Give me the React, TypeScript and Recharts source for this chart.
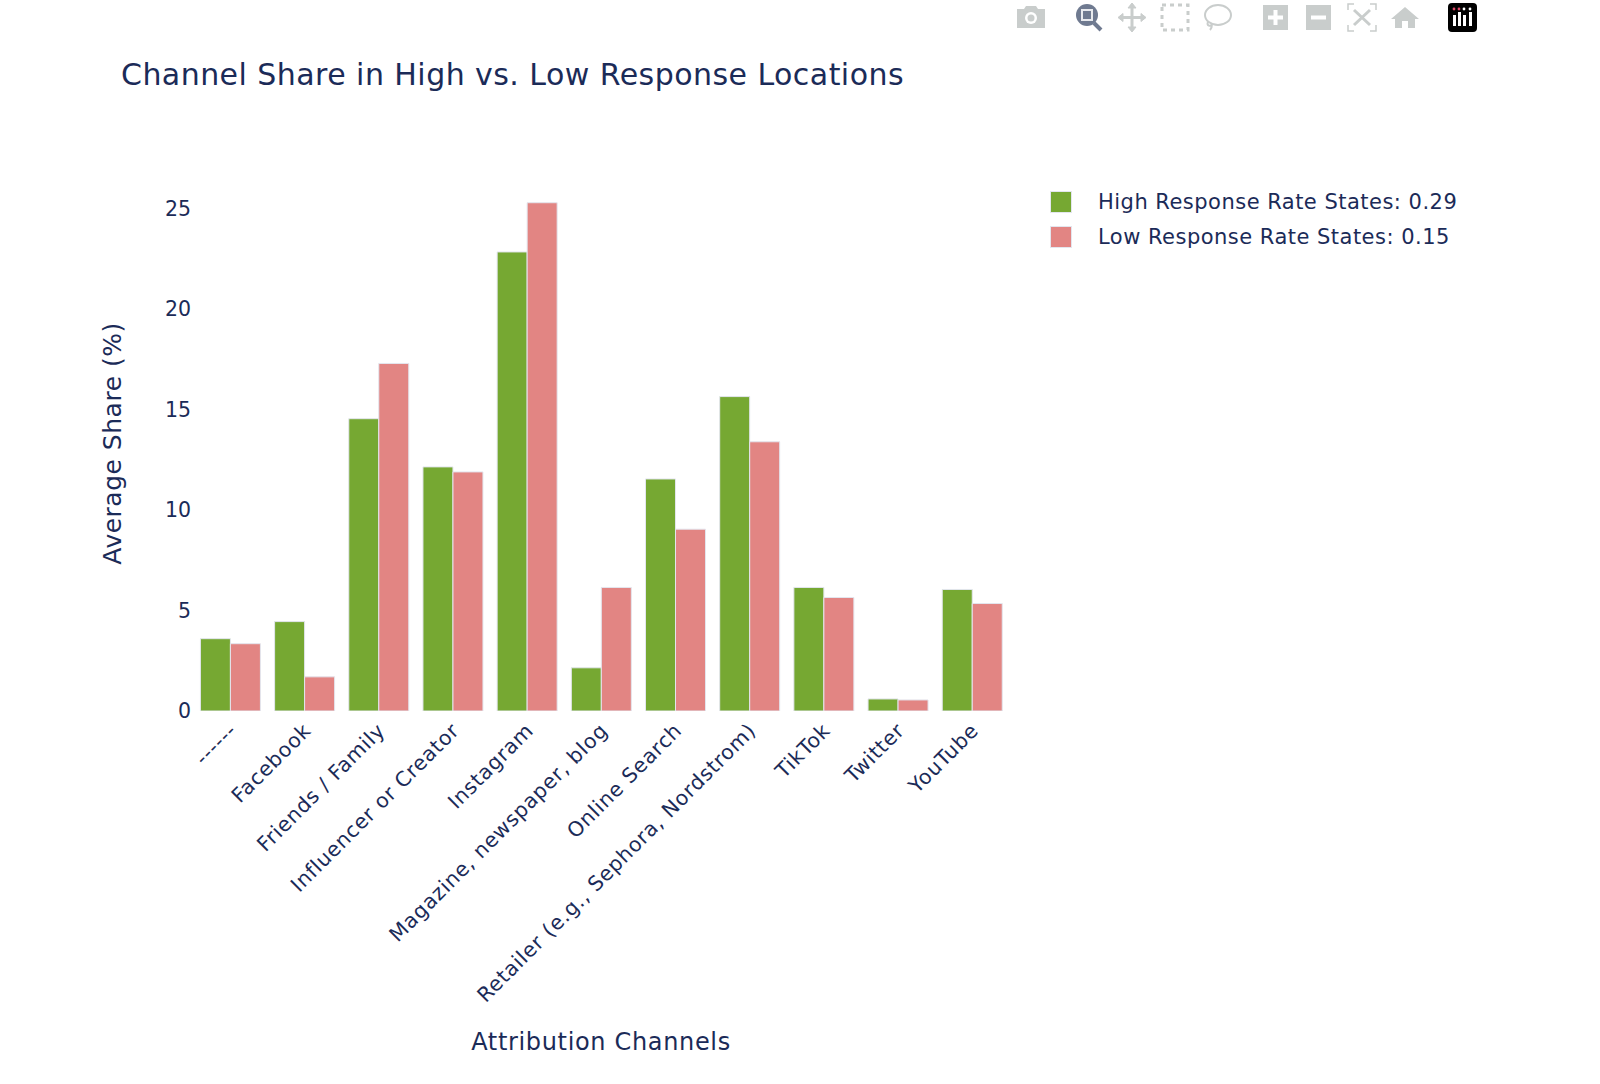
import React from 'react';
import { BarChart, Bar, XAxis, YAxis, Legend, Label } from 'recharts';

const categories = ['------', 'Facebook', 'Friends / Family', 'Influencer or Creator', 'Instagram', 'Magazine, newspaper, blog', 'Online Search', 'Retailer (e.g., Sephora, Nordstrom)', 'TikTok', 'Twitter', 'YouTube'];
const highValues = [3.6, 4.45, 14.55, 12.15, 22.85, 2.15, 11.55, 15.65, 6.15, 0.6, 6.05];
const lowValues = [3.35, 1.7, 17.3, 11.9, 25.3, 6.15, 9.05, 13.4, 5.65, 0.55, 5.35];
const yTicks = [0, 5, 10, 15, 20, 25];
const highName = 'High Response Rate States: 0.29';
const lowName = 'Low Response Rate States: 0.15';
const titleText = 'Channel Share in High vs. Low Response Locations';

const data = categories.map((c, i) => ({ category: c, high: highValues[i], low: lowValues[i] }));

const FONT = '"DejaVu Sans", Verdana, sans-serif';
const INK = '#1b2b58';
const GREEN = '#76a832';
const PINK = '#e28583';
const EDGE = '#e3e6ee';
const ICON = '#c9cdcc';

const XTick = (props: any) => {
  const { x, y, payload } = props;
  return (
    <text x={x - 3} y={y + 2} textAnchor="end" fontFamily={FONT} fontSize={20.5} letterSpacing={0.7} fill={INK} transform={`rotate(-45 ${x - 3} ${y + 2})`} dy="0.75em">
      {payload.value}
    </text>
  );
};

const LegendBox = () => (
  <div style={{ fontFamily: FONT, fontSize: 21, letterSpacing: 0.48, color: INK, lineHeight: '34.5px', whiteSpace: 'nowrap' }}>
    {[[GREEN, highName], [PINK, lowName]].map(([c, n]) => (
      <div key={n} style={{ display: 'flex', alignItems: 'center', height: 34.5 }}>
        <span style={{ display: 'inline-block', width: 22, height: 22, background: c, border: `1px solid ${EDGE}`, boxSizing: 'border-box', marginRight: 26 }} />
        <span>{n}</span>
      </div>
    ))}
  </div>
);

const Toolbar = () => (
  <svg width={1600} height={40} style={{ position: 'absolute', left: 0, top: 0 }}>
    <g fill={ICON}>
      <path d="M1017 9h7l2-3h10l2 3h7v19h-28z" />
      <circle cx={1031} cy={18} r={6} fill="#fff" />
      <circle cx={1031} cy={18} r={3.5} />
    </g>
    <g>
      <circle cx={1087} cy={15} r={11} fill="#6f7a90" />
      <rect x={1081} y={9} width={12} height={12} fill="#e8eaee" />
      <rect x={1083} y={11} width={8} height={8} fill="#6f7a90" />
      <path d="M1094 23l7 7" stroke="#6f7a90" strokeWidth={4} />
    </g>
    <g stroke={ICON} strokeWidth={3} fill={ICON}>
      <path d="M1132 5v25M1120 17.5h25" fill="none" />
      <path d="M1132 3l4 5h-8zM1132 32l4-5h-8zM1118 17.5l5-4v8zM1146 17.5l-5-4v8z" strokeWidth={1} />
    </g>
    <rect x={1162} y={5} width={26} height={25} fill="none" stroke={ICON} strokeWidth={3} strokeDasharray="4 4" />
    <g fill="none" stroke={ICON} strokeWidth={2}>
      <ellipse cx={1218} cy={15} rx={13} ry={10} />
      <path d="M1208 22c-2 4 3 5 4 2c0 3-1 5-2 6" />
    </g>
    <rect x={1263} y={5} width={25} height={25} fill={ICON} />
    <path d="M1275.5 10v15M1268 17.5h15" stroke="#fff" strokeWidth={4} />
    <rect x={1306} y={5} width={25} height={25} fill={ICON} />
    <path d="M1311 17.5h15" stroke="#fff" strokeWidth={4} />
    <g fill="none" stroke={ICON} strokeWidth={1.5}>
      <path d="M1348 10V4h6M1370 4h6v6M1376 25v6h-6M1354 31h-6v-6" />
      <path d="M1354 10l16 15M1370 10l-16 15" strokeWidth={3} />
    </g>
    <path d="M1405 7l14 12h-4v9h-7v-7h-6v7h-7v-9h-4z" fill={ICON} />
    <rect x={1448} y={3} width={29} height={29} rx={4} fill="#000" />
    <g fill="#fff">
      <rect x={1453} y={15} width={3} height={11} />
      <rect x={1458} y={12} width={3} height={14} />
      <rect x={1463} y={15} width={3} height={11} />
      <rect x={1469} y={12} width={3} height={14} />
    </g>
    <g fill="#e04a6a">
      <circle cx={1454} cy={9} r={1.4} />
      <circle cx={1459} cy={9} r={1.4} />
    </g>
    <g fill="#fff">
      <circle cx={1464} cy={9} r={1.4} />
      <circle cx={1470} cy={9} r={1.4} />
    </g>
  </svg>
);

export default function App() {
  return (
    <div style={{ position: 'absolute', left: 0, top: 0, width: 1600, height: 1084, background: '#fff', overflow: 'hidden' }}>
      <BarChart
        width={1600}
        height={1084}
        data={data}
        margin={{ top: 176, left: 0, right: 171, bottom: 0 }}
        barCategoryGap="10%"
        barGap={0}
      >
        <XAxis
          dataKey="category"
          interval={0}
          axisLine={false}
          tickLine={false}
          tick={<XTick />}
          height={373}
        >
          <Label value="Attribution Channels" position="insideBottom" offset={34} fontFamily={FONT} fontSize={24} letterSpacing={0.66} fill={INK} />
        </XAxis>
        <YAxis
          width={193}
          domain={[0, 26.63]}
          ticks={yTicks}
          axisLine={false}
          tickLine={false}
          allowDataOverflow
          tick={{ fontFamily: FONT, fontSize: 20.5, fill: INK, dx: 6, dy: 0 }}
        >
          <Label value="Average Share (%)" angle={-90} position="insideLeft" offset={112} fontFamily={FONT} fontSize={25} letterSpacing={0.5} fill={INK} style={{ textAnchor: 'middle' }} />
        </YAxis>
        <Legend content={<LegendBox />} layout="vertical" align="right" verticalAlign="top" wrapperStyle={{ left: 1050, top: 185, width: 420 }} />
        <Bar dataKey="high" name={highName} fill={GREEN} stroke={EDGE} strokeWidth={1} isAnimationActive={false} />
        <Bar dataKey="low" name={lowName} fill={PINK} stroke={EDGE} strokeWidth={1} isAnimationActive={false} />
      </BarChart>
      <div style={{ position: 'absolute', left: 121, top: 57, fontFamily: FONT, fontSize: 30, letterSpacing: 0.45, color: INK, whiteSpace: 'nowrap' }}>{titleText}</div>
      <Toolbar />
    </div>
  );
}
